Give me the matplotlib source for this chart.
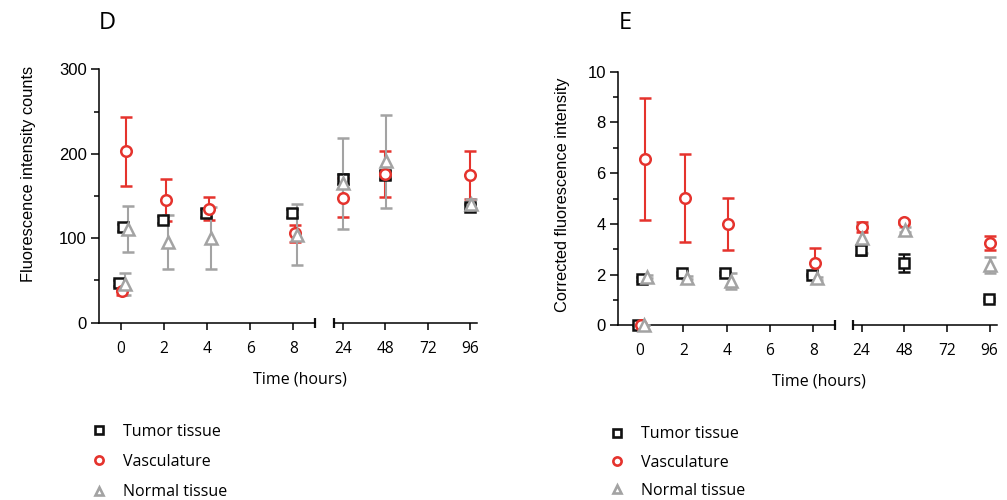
import matplotlib
matplotlib.use("Agg")
import matplotlib.pyplot as plt
from matplotlib.lines import Line2D
from matplotlib.ticker import MultipleLocator

# Sampling times (hours); the first two are baseline and the first post-injection read
hours = [0, 0.15, 2, 4, 8, 24, 48, 96]
series_names = ["Tumor tissue", "Vasculature", "Normal tissue"]

# Panel D: fluorescence intensity counts (mean, SD)
d_tumor = [47, 113, 122, 130, 130, 170, 175, 137]
d_tumor_sd = [3, 4, 4, 5, 5, 6, 5, 4]
d_vasc = [38, 203, 145, 135, 106, 148, 176, 175]
d_vasc_sd = [5, 41, 25, 14, 10, 23, 27, 28]
d_normal = [46, 111, 96, 100, 104, 165, 191, 141]
d_normal_sd = [13, 27, 32, 37, 36, 54, 55, 5]

# Panel E: corrected fluorescence intensity (mean, SD)
e_tumor = [0, 1.81, 2.05, 2.05, 1.98, 2.97, 2.45, 1.02]
e_tumor_sd = [0, 0.08, 0.05, 0.05, 0.05, 0.2, 0.35, 0.05]
e_vasc = [0, 6.56, 5.02, 3.99, 2.44, 3.89, 4.09, 3.25]
e_vasc_sd = [0, 2.4, 1.74, 1.03, 0.6, 0.2, 0.08, 0.28]
e_normal = [0, 1.92, 1.88, 1.75, 1.85, 3.43, 3.76, 2.38]
e_normal_sd = [0, 0.05, 0.05, 0.3, 0.05, 0.58, 0.1, 0.33]

left_ticks = [0, 2, 4, 6, 8]
right_ticks = [24, 48, 72, 96]

RED = "#E5332D"
GREY = "#A3A3A3"
BLACK = "#111111"
styles = [
    dict(marker="s", color=BLACK, ms=7.0, shift=-0.07),
    dict(marker="o", color=RED, ms=7.6, shift=0.07),
    dict(marker="^", color=GREY, ms=8.2, shift=0.18),
]

LABEL_FONT = ["Open Sans", "DejaVu Sans"]
NUM_FONT = ["Liberation Sans", "DejaVu Sans"]

W, H = 1007, 500
fig = plt.figure(figsize=(W / 100, H / 100), dpi=100)


def rect(x0, x1, ytop, ybot):
    return [x0 / W, 1 - ybot / H, (x1 - x0) / W, (ybot - ytop) / H]


def draw_panel(px_left, px_break, px_right_start, px_right, ytop, ybot,
               ymax, ymajor, yminor, means, sds, ylabel, ylabel_xy, letter, letter_xy,
               xlabel_xy):
    axL = fig.add_axes(rect(px_left, px_break, ytop, ybot))
    axR = fig.add_axes(rect(px_right_start, px_right, ytop, ybot))
    for ax, lim in ((axL, (-1, 9)), (axR, (19, 100))):
        for (m, s), st in zip(zip(means, sds), styles):
            keep = [i for i, h in enumerate(hours) if lim[0] <= h <= lim[1]]
            xs = [hours[i] + st["shift"] for i in keep]
            ys = [m[i] for i in keep]
            es = [s[i] for i in keep]
            ax.errorbar(xs, ys, yerr=es, fmt=st["marker"], color=st["color"],
                        ms=st["ms"], mfc="white", mec=st["color"], mew=1.8,
                        elinewidth=1.5, capsize=4.2, capthick=1.5,
                        clip_on=False, zorder=3)
        ax.set_xlim(*lim)
        ax.set_ylim(0, ymax)
        for side in ("top", "right"):
            ax.spines[side].set_visible(False)
        ax.spines["bottom"].set_linewidth(1.1)
        ax.spines["left"].set_linewidth(1.1)
        ax.patch.set_visible(False)
        ax.tick_params(axis="x", direction="out", length=5, width=1.1, pad=8)

    axL.set_xticks(left_ticks)
    axR.set_xticks(right_ticks)
    for ax in (axL, axR):
        ax.set_xticklabels([str(t) for t in ax.get_xticks()], fontfamily=LABEL_FONT,
                           fontsize=11.2)

    axL.yaxis.set_major_locator(MultipleLocator(ymajor))
    axL.yaxis.set_minor_locator(MultipleLocator(yminor))
    axL.tick_params(axis="y", which="major", direction="out", length=6, width=1.1,
                    pad=3, labelsize=12)
    axL.tick_params(axis="y", which="minor", direction="out", length=3.3, width=1.1)
    for t in axL.get_yticklabels():
        t.set_fontfamily(NUM_FONT)

    axR.spines["left"].set_visible(False)
    axR.tick_params(axis="y", which="both", left=False, labelleft=False)

    # break marks at the ends of the split x axis
    axL.plot([1], [0], marker="|", ms=6.5, mew=1.6, color=BLACK,
             transform=axL.transAxes, clip_on=False)
    axR.plot([0], [0], marker="|", ms=6.5, mew=1.6, color=BLACK,
             transform=axR.transAxes, clip_on=False)

    fig.text(ylabel_xy[0] / W, 1 - ylabel_xy[1] / H, ylabel, rotation=90,
             ha="center", va="center", fontsize=11.8, fontfamily=NUM_FONT)
    fig.text(xlabel_xy[0] / W, 1 - xlabel_xy[1] / H, "Time (hours)",
             ha="center", va="center", fontsize=11.5, fontfamily=LABEL_FONT)
    fig.text(letter_xy[0] / W, 1 - letter_xy[1] / H, letter,
             ha="left", va="center", fontsize=17, fontfamily=LABEL_FONT)
    return axL


draw_panel(99.3, 315, 334, 477.3, 69.3, 322.7, 300, 100, 50,
           [d_tumor, d_vasc, d_normal], [d_tumor_sd, d_vasc_sd, d_normal_sd],
           "Fluorescence intensity counts", (29, 174), "D", (99, 23), (300, 380))
draw_panel(618.3, 835, 852.7, 996.7, 71.7, 325.3, 10, 2, 1,
           [e_tumor, e_vasc, e_normal], [e_tumor_sd, e_vasc_sd, e_normal_sd],
           "Corrected fluorescence intensity", (562, 195), "E", (619, 23), (819, 382))

handles = [Line2D([], [], linestyle="none", marker=st["marker"], color=st["color"],
                  mfc="white", mec=st["color"], ms=st["ms"] * 0.78, mew=1.9)
           for st in styles]

for x0, y0, gap in ((91, 424, 0.88), (609.5, 426.5, 0.76)):
    fig.legend(handles, series_names, loc="upper left",
               bbox_to_anchor=(x0 / W, 1 - y0 / H), frameon=False,
               handlelength=1.0, handletextpad=1.0, borderpad=0, borderaxespad=0,
               labelspacing=gap, prop={"family": LABEL_FONT, "size": 11.5})

fig.savefig("out.png", dpi=100)
